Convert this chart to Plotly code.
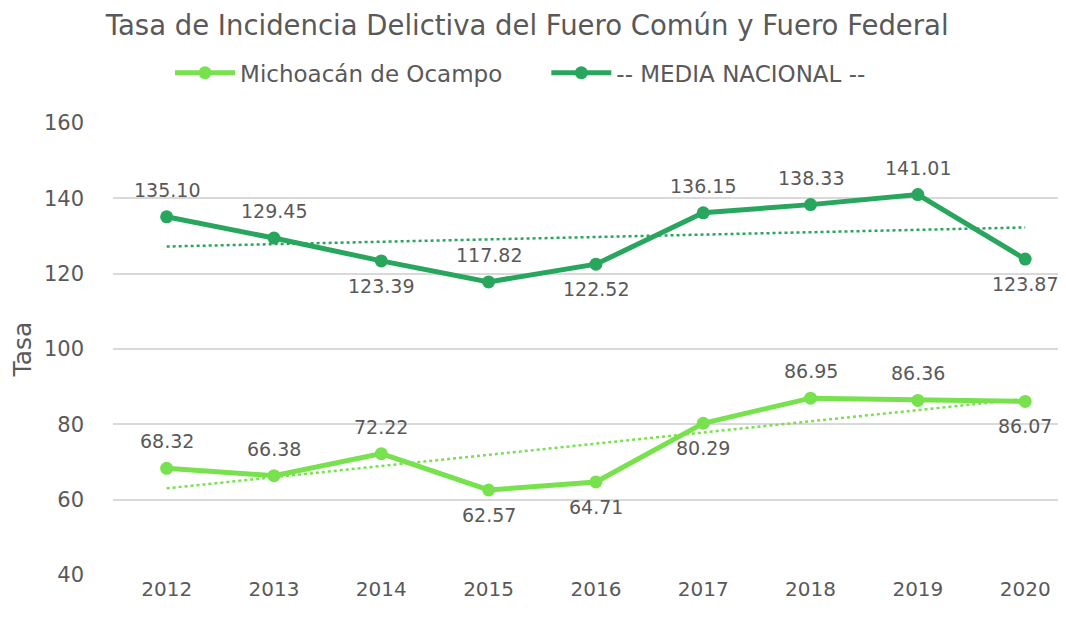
import numpy as np
import plotly.graph_objects as go

years = ["2012", "2013", "2014", "2015", "2016", "2017", "2018", "2019", "2020"]
michoacan = [68.32, 66.38, 72.22, 62.57, 64.71, 80.29, 86.95, 86.36, 86.07]
media = [135.10, 129.45, 123.39, 117.82, 122.52, 136.15, 138.33, 141.01, 123.87]
mich_pos = ["top", "top", "top", "bottom", "bottom", "bottom", "top", "top", "bottom"]
media_pos = ["top", "top", "bottom", "top", "bottom", "top", "top", "top", "bottom"]

c_mich = "#77E24D"
c_media = "#28A65E"
grey = "#595959"
font = "DejaVu Sans"

xi = np.arange(len(years))
fig = go.Figure()

def trend(vals):
    b, a = np.polyfit(xi, vals, 1)
    return list(a + b * xi)

fig.add_trace(go.Scatter(x=xi, y=trend(michoacan), mode="lines", showlegend=False,
                         line=dict(color=c_mich, width=2.5, dash="dot"), hoverinfo="skip"))
fig.add_trace(go.Scatter(x=xi, y=trend(media), mode="lines", showlegend=False,
                         line=dict(color=c_media, width=2.5, dash="dot"), hoverinfo="skip"))
fig.add_trace(go.Scatter(x=xi, y=michoacan, mode="lines+markers", name="Michoacán de Ocampo",
                         line=dict(color=c_mich, width=5), marker=dict(size=13, color=c_mich),
                         legend="legend"))
fig.add_trace(go.Scatter(x=xi, y=media, mode="lines+markers", name="-- MEDIA NACIONAL --",
                         line=dict(color=c_media, width=5), marker=dict(size=13, color=c_media),
                         legend="legend2"))

for vals, pos in ((michoacan, mich_pos), (media, media_pos)):
    for i, (v, p) in enumerate(zip(vals, pos)):
        fig.add_annotation(x=i, y=v, text=f"{v:.2f}", showarrow=False,
                           yshift=27 if p == "top" else -25,
                           font=dict(family=font, size=19, color=grey))

leg_common = dict(orientation="h", yref="container", y=0.897, yanchor="middle", xref="container",
                  xanchor="left", font=dict(family=font, size=23, color=grey),
                  bgcolor="rgba(0,0,0,0)", itemwidth=60)
fig.update_layout(
    width=1066, height=629,
    paper_bgcolor="white", plot_bgcolor="white",
    margin=dict(l=105, r=0, t=115, b=62, autoexpand=False),
    title=dict(text="Tasa de Incidencia Delictiva del Fuero Común y Fuero Federal",
               x=0.487, xanchor="center", xref="container", y=0.973, yanchor="middle",
               font=dict(family=font, size=27.5, color=grey)),
    legend=dict(x=0.152, **leg_common),
    legend2=dict(x=0.505, **leg_common),
    font=dict(family=font, color=grey),
)
fig.update_xaxes(tickmode="array", tickvals=xi, ticktext=years, range=[-0.5, 8.455],
                 showgrid=False, zeroline=False, showline=False, automargin=False,
                 tickfont=dict(family=font, size=20, color=grey))
fig.update_yaxes(range=[40, 160], dtick=20, showgrid=True, gridcolor="#D9D9D9", gridwidth=2,
                 zeroline=False, showline=False, ticks="", ticklabelstandoff=28, automargin=False,
                 tickfont=dict(family=font, size=21, color=grey),
                 title=dict(text="Tasa", font=dict(family=font, size=25, color=grey), standoff=14))

fig.write_html("out.html", post_script="document.body.style.overflow='hidden';")
